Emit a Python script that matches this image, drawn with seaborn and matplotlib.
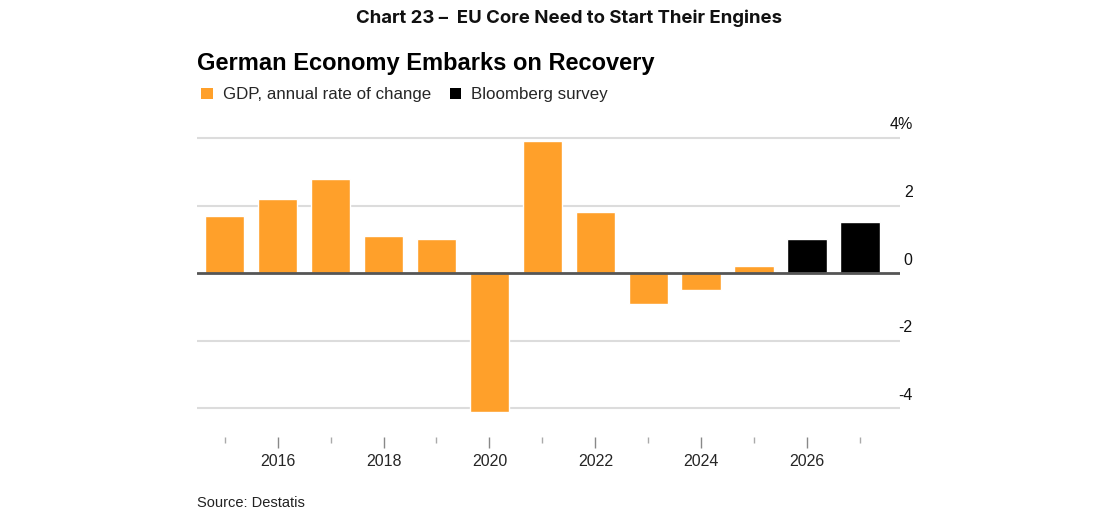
import pandas as pd
import matplotlib.pyplot as plt
import seaborn as sns
from matplotlib.patches import Patch

# Data
years = [2015, 2016, 2017, 2018, 2019, 2020, 2021, 2022, 2023, 2024, 2025, 2026, 2027]
values = [1.7, 2.2, 2.8, 1.1, 1.0, -4.1, 3.9, 1.8, -0.9, -0.5, 0.2, 1.0, 1.5]
kinds = ["GDP, annual rate of change"] * 11 + ["Bloomberg survey"] * 2
y_ticks = [-4, -2, 0, 2, 4]
y_labels = ["-4", "-2", "0", "2", "4%"]

df = pd.DataFrame({"year": years, "value": values, "kind": kinds})

orange = "#FFA02A"
palette = {"GDP, annual rate of change": orange, "Bloomberg survey": "#000000"}

sns.set_theme(style="white")
plt.rcParams["font.family"] = ["Liberation Sans", "DejaVu Sans"]

fig = plt.figure(figsize=(11.02, 5.26), dpi=100)
ax = fig.add_axes([0.1788, 0.169, 0.8167 - 0.1788, 0.757 - 0.169])

sns.barplot(data=df, x="year", y="value", hue="kind", palette=palette,
            dodge=False, width=0.75, saturation=1, ax=ax, legend=False)

# gridlines and zero line
for t in y_ticks:
    if t == 0:
        continue
    ax.axhline(t, color="#dcdcdc", lw=1.5, zorder=0)
ax.axhline(0, color="#555555", lw=2, zorder=3)

ax.set_xlim(-0.52, 12.75)
ax.set_ylim(-4.85, 4.3)
for s in ax.spines.values():
    s.set_visible(False)

# x ticks: labelled even years, short ticks for odd years
idx = list(range(len(years)))
ax.set_xticks([i for i in idx if years[i] % 2 == 0])
ax.set_xticklabels([str(years[i]) for i in idx if years[i] % 2 == 0], fontsize=11.5)
ax.set_xticks([i for i in idx if years[i] % 2 == 1], minor=True)
ax.tick_params(axis="x", which="major", length=8, width=1, color="#888888",
               bottom=True, pad=4)
ax.tick_params(axis="x", which="minor", length=4, width=1, color="#aaaaaa",
               bottom=True)
ax.set_xlabel("")
ax.set_ylabel("")

# y labels on the right, sitting above the gridlines
ax.set_yticks([])
for t, lab in zip(y_ticks, y_labels):
    ax.annotate(lab, xy=(1.0, t), xycoords=("axes fraction", "data"),
                xytext=(9, 4), textcoords="offset points",
                ha="right", va="bottom", fontsize=11.5, color="#111111")

# titles
fig.text(0.516, 0.965, "Chart 23 \u2013  EU Core Need to Start Their Engines",
         ha="center", va="center", fontsize=13.4, fontweight="bold",
         family=["Inter", "DejaVu Sans"], color="#111111")
fig.text(0.1788, 0.88, "German Economy Embarks on Recovery",
         ha="left", va="center", fontsize=17, fontweight="bold", color="#000000")

handles = [Patch(facecolor=orange, edgecolor="none", label="GDP, annual rate of change"),
           Patch(facecolor="#000000", edgecolor="none", label="Bloomberg survey")]
fig.legend(handles=handles, loc="center left", bbox_to_anchor=(0.169, 0.82),
           ncol=2, frameon=False, fontsize=12.2, handlelength=0.65, handleheight=0.65,
           handletextpad=0.6, columnspacing=1.1)

fig.text(0.1788, 0.043, "Source: Destatis", ha="left", va="center",
         fontsize=10.5, color="#222222")

fig.savefig("out.png", dpi=100)
